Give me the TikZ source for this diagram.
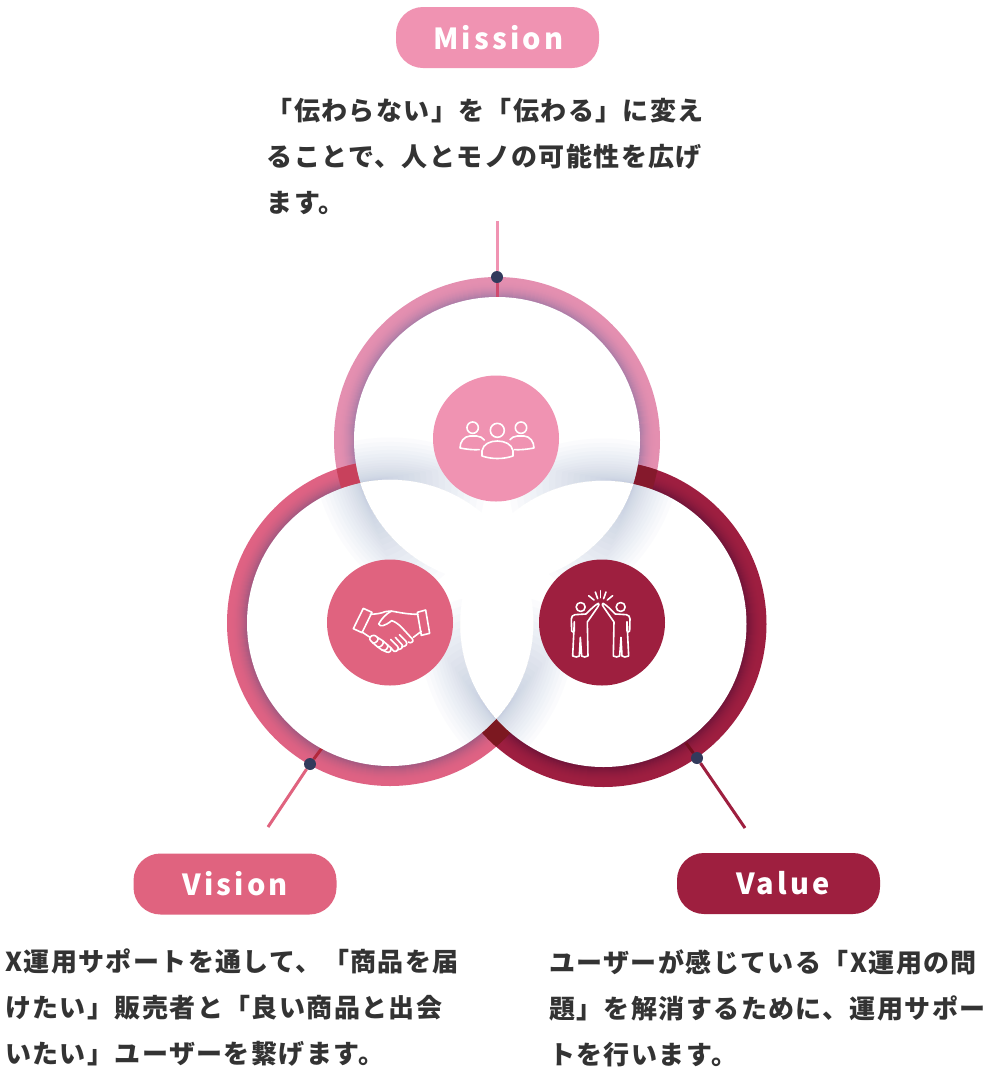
\documentclass[tikz,border=0pt]{standalone}
\usepackage{fontspec}
\newfontfamily\bodyjp[LetterSpace=5.4]{Noto Sans CJK JP}
\newfontfamily\pilljp[LetterSpace=11]{Noto Sans CJK JP}
\definecolor{mis}{HTML}{F093B2}
\definecolor{vis}{HTML}{E0637F}
\definecolor{val}{HTML}{9E1F3F}
\definecolor{dotc}{HTML}{323A5C}
\definecolor{txt}{HTML}{333333}
\definecolor{misIn}{HTML}{A97BA6}
\definecolor{misOut}{HTML}{E48FB0}
\definecolor{visIn}{HTML}{A0587F}
\definecolor{visOut}{HTML}{DF6283}
\definecolor{valIn}{HTML}{6E1438}
\definecolor{valOut}{HTML}{9E1E40}
\definecolor{shA}{HTML}{A9B7D2}
\tikzset{
  pill/.style={rounded corners=27pt,minimum width=203pt,minimum height=61pt,inner sep=0pt,text=white,font=\pilljp\bfseries\fontsize{29}{30}\selectfont},
  body/.style={anchor=north west,inner sep=0pt,align=left,text=txt,font=\bodyjp\bfseries\fontsize{26}{46}\selectfont},
  disc/.style={circle,inner sep=0pt,minimum size=126pt},
  dotn/.style={circle,fill=dotc,inner sep=0pt,minimum size=12pt},
  icon/.style={draw=white,line width=1.6pt,line join=round,line cap=round},
  lead/.style={line width=3pt},
  tickm/.style={line width=3pt},
}
% ring around centre #1 in the colours #2 (inner rim) to #3 (outer rim)
\newcommand{\gradring}[3]{%
  \fill[#3] (#1) circle (163pt);
  \foreach \r in {143,144,...,160}{%
    \pgfmathsetmacro{\p}{100*((160-\r)/17)^2}%
    \draw[#2!\p!#3,line width=1.3pt] (#1) circle (\r pt);
  }}
% shadow cast by the disc centred on #1 onto the disc centred on #2, strongest at rim corner #3
\newcommand{\castshadow}[3]{%
  \foreach \k in {1,...,22}{%
    \pgfmathsetmacro{\wid}{143.5+42*(\k/22)^2.4}%
    \pgfmathsetmacro{\rad}{6+118*(\k/22)^1.3}%
    \begin{scope}
      \clip (#2) circle (143pt);
      \clip (#3) circle (\rad pt);
      \begin{scope}[even odd rule]
        \fill[shA,fill opacity=0.045] (#1) circle (143.5pt) (#1) circle (\wid pt);
      \end{scope}
    \end{scope}
  }}
\begin{document}
\begin{tikzpicture}[x=1pt,y=-1pt]
\useasboundingbox (0,0) rectangle (992,1072);
\fill[white] (0,0) rectangle (992,1072);
\coordinate (cM) at (497,440);
\coordinate (cV) at (390,623);
\coordinate (cW) at (603.5,624);
\coordinate (cornerMV) at (361,483);
\coordinate (cornerMW) at (633,483);
\coordinate (cornerVW) at (496.5,718);
% rings
\gradring{cM}{misIn}{misOut}
\gradring{cV}{visIn}{visOut}
\gradring{cW}{valIn}{valOut}
\begin{scope}\clip (cM) circle (163pt);\fill[fill={rgb,255:red,200;green,65;blue,92}] (cV) circle (163pt);\end{scope}
\begin{scope}\clip (cM) circle (163pt);\fill[fill={rgb,255:red,133;green,25;blue,44}] (cW) circle (163pt);\end{scope}
\begin{scope}\clip (cV) circle (163pt);\fill[fill={rgb,255:red,124;green,24;blue,32}] (cW) circle (163pt);\end{scope}
% tick marks inside the rings
\coordinate (inM) at (497,297);
\coordinate (inV) at (322,748);
\coordinate (inW) at (686,743);
\coordinate (endM) at (497,221);
\coordinate (endV) at (268,827);
\coordinate (endW) at (745,828);
\node[dotn] (dotM) at (497,277) {};
\node[dotn] (dotV) at (310,764) {};
\node[dotn] (dotW) at (697,758) {};
\draw[tickm,draw={rgb,255:red,208;green,74;blue,110}] (dotM) -- (inM);
\draw[tickm,draw={rgb,255:red,178;green,40;blue,60}] (dotV) -- (inV);
\draw[tickm,draw={rgb,255:red,115;green,15;blue,30}] (dotW) -- (inW);
% white discs
\fill[white] (cM) circle (143pt);
\fill[white] (cV) circle (143pt);
\fill[white] (cW) circle (143pt);
% soft shadows
\castshadow{cM}{cV}{cornerMV}
\castshadow{cV}{cM}{cornerMV}
\castshadow{cM}{cW}{cornerMW}
\castshadow{cW}{cM}{cornerMW}
\castshadow{cV}{cW}{cornerVW}
\castshadow{cW}{cV}{cornerVW}
% leads
\draw[lead,draw=mis] (dotM) -- (endM);
\draw[lead,draw=vis] (dotV) -- (endV);
\draw[lead,draw=val] (dotW) -- (endW);
% icon discs
\node[disc,fill=mis] (iconM) at (496,438.5) {};
\node[disc,fill=vis] (iconV) at (390,622.5) {};
\node[disc,fill=val] (iconW) at (602,622.5) {};
% people icon
\begin{scope}[shift={(420,360)},x=0.3333pt,y=-0.3333pt,icon]
  \draw (158,203) circle (5.7pt);
  \draw (232,211) circle (7pt);
  \draw (303,203) circle (5.7pt);
  \draw (186,288) -- (186,272) .. controls (190,252) and (210,243) .. (232,243) .. controls (254,243) and (275,252) .. (279,272) -- (279,288) .. controls (250,298) and (215,298) .. (186,288) -- cycle;
  \draw (178,269) .. controls (160,270) and (140,268) .. (120,264) .. controls (120,245) and (132,229) .. (150,228) -- (170,228) .. controls (180,229) and (188,233) .. (193,240);
  \draw (283,269) .. controls (300,270) and (322,268) .. (342,264) .. controls (342,245) and (330,229) .. (312,228) -- (292,228) .. controls (282,229) and (274,233) .. (270,239);
\end{scope}
% handshake icon
\begin{scope}[shift={(320,550)},x=0.3333pt,y=-0.3333pt,icon]
  \draw (130,175) -- (156,187) -- (126,248) -- (100,236) -- cycle;
  \draw (292,187) -- (317,180) -- (329,250) -- (304,256) -- cycle;
  \draw (151,193) .. controls (170,192) and (185,190) .. (195,185) .. controls (215,178) and (235,192) .. (294,193);
  \draw (215,183) .. controls (200,190) and (185,205) .. (176,222) .. controls (180,232) and (195,228) .. (215,212) .. controls (225,215) and (235,222) .. (245,232) -- (278,268) .. controls (282,275) and (272,282) .. (265,276);
  \draw (304,244) -- (280,262);
  \draw (126,246) -- (150,262);
  \draw (161,256) .. controls (150,256) and (146,268) .. (152,272) -- (158,278) .. controls (165,284) and (180,268) .. (172,262) .. controls (168,258) and (164,256) .. (161,256);
  \draw (172,262) -- (188,272) .. controls (196,280) and (180,296) .. (172,290) -- (158,278);
  \draw (188,272) -- (202,284) .. controls (208,292) and (196,306) .. (186,300) -- (172,290);
  \draw (202,284) -- (212,293) .. controls (216,302) and (208,310) .. (200,306) -- (186,300);
  \draw (212,293) -- (222,304) .. controls (232,306) and (240,296) .. (232,288) -- (212,268);
  \draw (232,298) .. controls (244,300) and (250,292) .. (246,284) -- (226,262);
  \draw (246,290) .. controls (258,290) and (264,282) .. (258,274) -- (238,254);
\end{scope}
% high five icon
\begin{scope}[shift={(530,550)},x=0.3333pt,y=-0.3333pt,icon]
  \draw (152,171) circle (4.5pt);
  \draw (272,171) circle (4.5pt);
  \draw (205,160) .. controls (195,165) and (185,175) .. (168,192) -- (135,194) .. controls (128,195) and (124,200) .. (124,207) -- (125,243) .. controls (127,247) and (132,247) .. (133,243) -- (133,215) -- (128,318) .. controls (135,322) and (144,322) .. (148,318) -- (151,262) -- (155,318) .. controls (160,322) and (168,322) .. (174,318) -- (172,216) -- (204,170) .. controls (208,166) and (208,161) .. (205,160) -- cycle;
  \draw (219,160) .. controls (229,165) and (239,175) .. (256,192) -- (289,194) .. controls (296,195) and (300,200) .. (300,207) -- (299,243) .. controls (297,247) and (292,247) .. (291,243) -- (291,215) -- (296,318) .. controls (289,322) and (280,322) .. (276,318) -- (273,262) -- (269,318) .. controls (264,322) and (256,322) .. (250,318) -- (252,216) -- (220,170) .. controls (216,166) and (216,161) .. (219,160) -- cycle;
  \draw (212,122) -- (212,143);
  \draw (196,126) -- (203,146);
  \draw (228,126) -- (221,146);
  \draw (176,137) -- (192,150);
  \draw (248,137) -- (232,150);
\end{scope}
% labels
\node[pill,fill=mis] (pillM) at (497.5,37.5) {\hspace*{2pt}Mission};
\node[pill,fill=vis] (pillV) at (235,884) {\raisebox{-2pt}{Vision}};
\node[pill,fill=val] (pillW) at (778.5,883.5) {\hspace*{9pt}\raisebox{-3pt}{Value}};
\node[body] (textM) at (266.5,98) {「伝わらない」を「伝わる」に変え\\ることで、人とモノの可能性を広げ\\ます。};
\node[body] (textV) at (5,949) {X運用サポートを通して、「商品を届\\けたい」販売者と「良い商品と出会\\いたい」ユーザーを繋げます。};
\node[body] (textW) at (549,949) {ユーザーが感じている「X運用の問\\題」を解消するために、運用サポー\\トを行います。};
\end{tikzpicture}
\end{document}
